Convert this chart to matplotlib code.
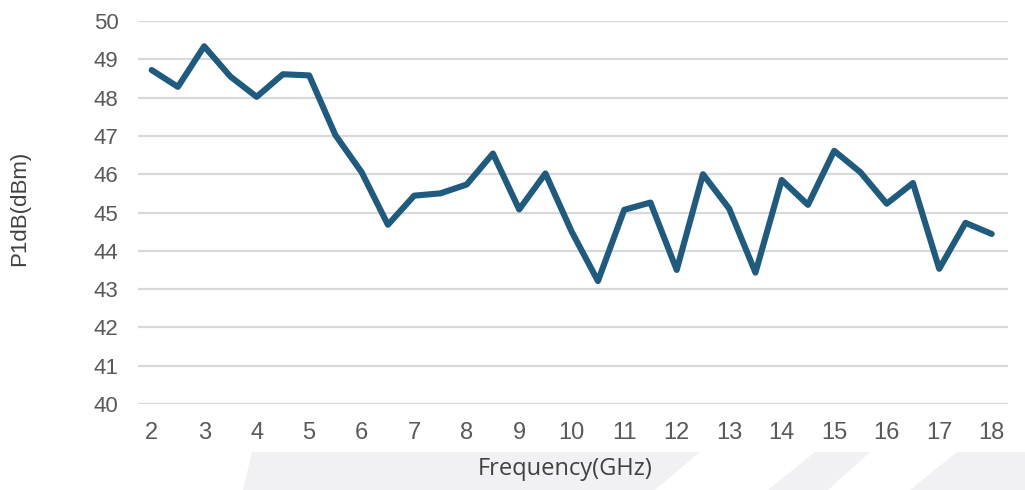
import matplotlib.pyplot as plt
from matplotlib.patches import Polygon

# P1dB vs frequency
freq_ghz = [2, 2.5, 3, 3.5, 4, 4.5, 5, 5.5, 6, 6.5, 7, 7.5, 8, 8.5, 9, 9.5, 10,
            10.5, 11, 11.5, 12, 12.5, 13, 13.5, 14, 14.5, 15, 15.5, 16, 16.5,
            17, 17.5, 18]
p1db_dbm = [48.72, 48.28, 49.34, 48.55, 48.02, 48.61, 48.58, 47.02, 46.05,
            44.68, 45.44, 45.50, 45.73, 46.54, 45.08, 46.02, 44.50, 43.21,
            45.07, 45.26, 43.50, 46.00, 45.10, 43.43, 45.85, 45.20, 46.61,
            46.05, 45.23, 45.77, 43.53, 44.73, 44.44]
x_ticks = list(range(2, 19))
y_ticks = list(range(40, 51))

plt.switch_backend('Agg')

fig = plt.figure(figsize=(10.25, 4.9), dpi=100)

# faint watermark stripes along the bottom (figure pixel coords)
W, H = 1025, 490
stripes = [
    [(243, 490), (252, 452), (700, 452), (655, 490)],
    [(768, 490), (815, 452), (870, 452), (828, 490)],
    [(910, 490), (957, 452), (1025, 452), (1025, 490)],
]
for pts in stripes:
    fig.patches.append(Polygon([(x / W, 1 - y / H) for x, y in pts],
                               closed=True, transform=fig.transFigure,
                               facecolor='#f1f1f4', edgecolor='none', zorder=0))

ax = fig.add_axes([138 / W, 1 - 404 / H, (1008 - 138) / W, (404 - 21) / H])
ax.patch.set_alpha(0)

ax.plot(freq_ghz, p1db_dbm, color='#1f5b7e', linewidth=4.4,
        solid_joinstyle='round', solid_capstyle='round', zorder=3)

ax.set_xlim(1.74, 18.31)
ax.set_ylim(40, 50)
ax.set_xticks(x_ticks)
ax.set_yticks(y_ticks)
ax.grid(axis='y', color='#d9d9d9', linewidth=1.6)
ax.set_axisbelow(True)
for s in ax.spines.values():
    s.set_visible(False)
ax.tick_params(length=0, colors='#595959')
ax.tick_params(axis='y', pad=14, labelsize=16)
ax.tick_params(axis='x', pad=13, labelsize=17)
for lbl in ax.get_yticklabels():
    lbl.set_family(['Liberation Sans', 'DejaVu Sans'])
for lbl in ax.get_xticklabels():
    lbl.set_family(['Liberation Sans Narrow', 'Liberation Sans', 'DejaVu Sans'])

fig.text(565 / W, 1 - 469 / H, 'Frequency(GHz)', ha='center', va='center',
         fontsize=17, color='#404040', family=['Open Sans', 'DejaVu Sans'])
fig.text(20 / W, 1 - 208 / H, 'P1dB(dBm)', ha='center', va='center',
         rotation=90, fontsize=16, color='#404040',
         family=['Liberation Sans', 'DejaVu Sans'])

fig.savefig('out.png', dpi=100)
plt.close(fig)
